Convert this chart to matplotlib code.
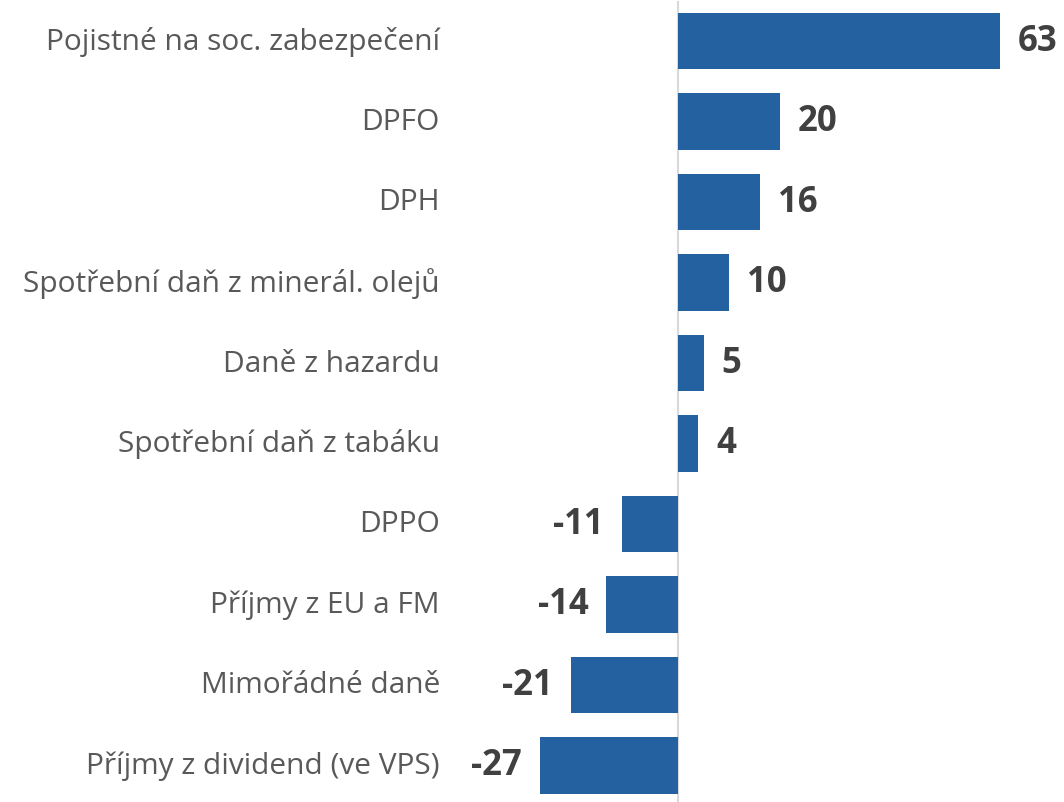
import matplotlib.pyplot as plt

categories = [
    "Pojistné na soc. zabezpečení",
    "DPFO",
    "DPH",
    "Spotřební daň z minerál. olejů",
    "Daně z hazardu",
    "Spotřební daň z tabáku",
    "DPPO",
    "Příjmy z EU a FM",
    "Mimořádné daně",
    "Příjmy z dividend (ve VPS)",
]
values = [63, 20, 16, 10, 5, 4, -11, -14, -21, -27]

plt.rcParams['font.family'] = ['Open Sans', 'DejaVu Sans']

W, H = 1064, 803
fig = plt.figure(figsize=(W / 100, H / 100), dpi=100)
# rows are about 80.5 px tall, first row centred at y=42 px
top_px, row_px = 1.75, 80.5
n = len(categories)
ax_h = row_px * n
ax = fig.add_axes([450 / W, 1 - (top_px + ax_h) / H, 612 / W, ax_h / H])

ypos = list(range(n))
ax.barh(ypos, values, height=0.7, color="#2361A0")

# scale: about 5.11 px per unit, zero line at x=678 px
ppu = 5.11
ax.set_xlim((450 - 678) / ppu, (1062 - 678) / ppu)
ax.set_ylim(n - 0.5, -0.5)
ax.axvline(0, color="#d9d9d9", lw=1.5, zorder=0)

for y, v in zip(ypos, values):
    off = 3.5 if v > 0 else -3.5
    ax.text(v + off, y, str(v), ha="left" if v > 0 else "right", va="center",
            fontsize=25, fontweight="bold", color="#404040")

for y, c in zip(ypos, categories):
    fig.text(440 / W, 1 - (top_px + (y + 0.5) * row_px) / H, c, ha="right", va="center",
             fontsize=21.5, color="#595959")

ax.axis("off")
fig.savefig("out.png", dpi=100)
